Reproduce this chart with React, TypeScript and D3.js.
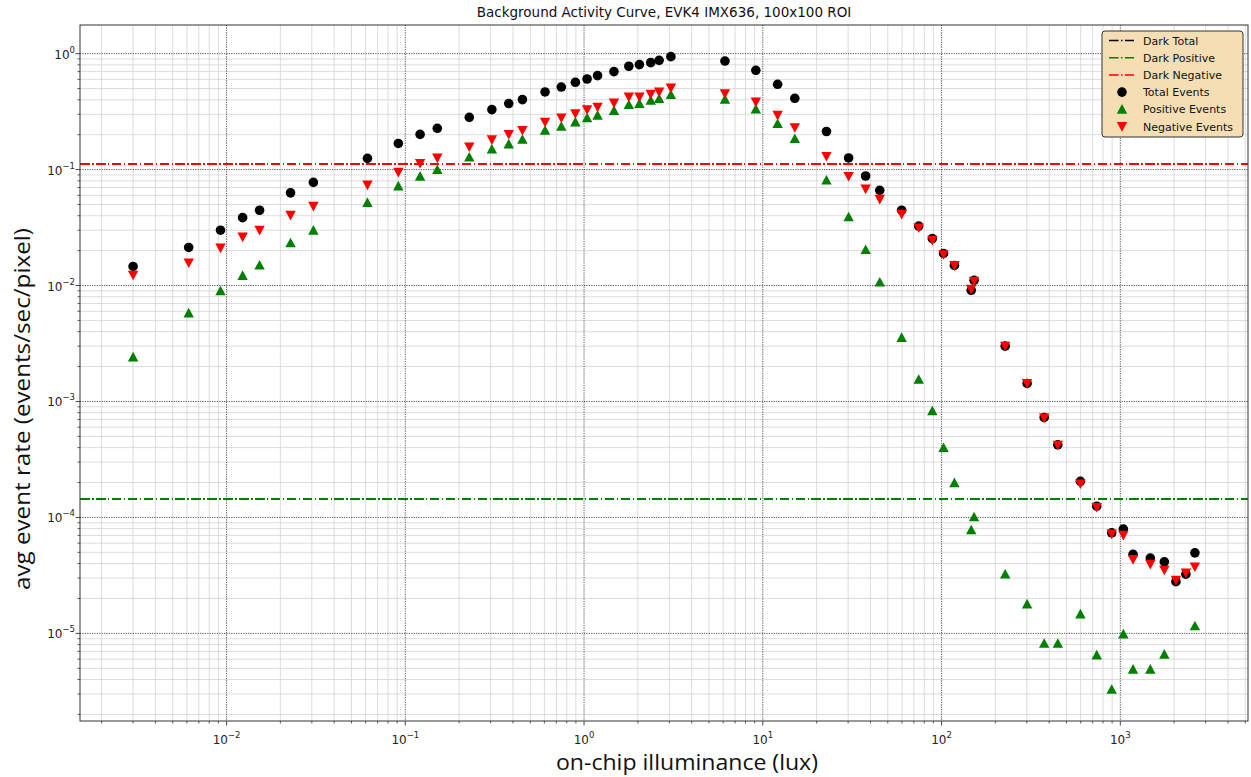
import React from "react";
import * as d3 from "d3";

// ---- data ----
const X_LUX = [
  0.003, 0.00614, 0.00925, 0.0123, 0.0153, 0.0228, 0.0306, 0.0614, 0.0914, 0.121,
  0.151, 0.228, 0.305, 0.379, 0.452, 0.605, 0.746, 0.894, 1.04, 1.19,
  1.47, 1.78, 2.04, 2.36, 2.63, 3.06, 6.14, 9.14, 12.1, 15.1,
  22.7, 30.2, 37.6, 45.1, 59.8, 74.5, 88.8, 102.6, 118, 146.5,
  152, 227, 301, 375, 447, 598, 738, 895, 1040, 1178,
  1472, 1763, 2047, 2327, 2614,
];
const TOTAL = [
  0.0146, 0.0213, 0.03, 0.0385, 0.0446, 0.063, 0.0775, 0.125, 0.168, 0.201,
  0.227, 0.282, 0.329, 0.371, 0.401, 0.467, 0.515, 0.566, 0.604, 0.646,
  0.7, 0.778, 0.804, 0.836, 0.875, 0.942, 0.863, 0.718, 0.544, 0.412,
  0.213, 0.126, 0.088, 0.0663, 0.0446, 0.0326, 0.0254, 0.0189, 0.0149, 0.0091,
  0.0111, 3.0e-3, 1.43e-3, 7.28e-4, 4.23e-4, 2.05e-4, 1.25e-4, 7.37e-5, 7.93e-5, 4.8e-5,
  4.46e-5, 4.14e-5, 2.79e-5, 3.24e-5, 4.95e-5,
];
const POSITIVE: (number | null)[] = [
  0.00242, 0.0058, 0.009, 0.0122, 0.015, 0.0233, 0.03, 0.052, 0.0722, 0.0875,
  0.1, 0.128, 0.15, 0.166, 0.182, 0.218, 0.236, 0.257, 0.279, 0.294,
  0.323, 0.363, 0.371, 0.396, 0.409, 0.443, 0.404, 0.333, 0.249, 0.185,
  0.081, 0.0391, 0.0204, 0.0107, 3.56e-3, 1.55e-3, 8.3e-4, 4.0e-4, 1.99e-4, 7.8e-5,
  1.01e-4, 3.24e-5, 1.79e-5, 8.2e-6, 8.2e-6, 1.47e-5, 6.5e-6, 3.29e-6, 9.87e-6, 4.9e-6,
  4.9e-6, 6.6e-6, null, null, 1.16e-5,
];
const NEGATIVE = [
  0.0123, 0.0157, 0.0211, 0.0262, 0.03, 0.0404, 0.0483, 0.0737, 0.0948, 0.113,
  0.126, 0.157, 0.181, 0.201, 0.218, 0.257, 0.279, 0.304, 0.329, 0.346,
  0.375, 0.423, 0.423, 0.446, 0.467, 0.505, 0.452, 0.383, 0.294, 0.23,
  0.13, 0.0875, 0.068, 0.0555, 0.0412, 0.0314, 0.0246, 0.0185, 0.0149, 0.0093,
  0.0109, 3.0e-3, 1.43e-3, 7.2e-4, 4.2e-4, 1.95e-4, 1.22e-4, 7.2e-5, 7.03e-5, 4.34e-5,
  3.95e-5, 3.51e-5, 2.88e-5, 3.33e-5, 3.75e-5,
];
// the dark-total line is hidden under the dark-negative line in the reference
const DARK_TOTAL = 0.1127;
const DARK_POSITIVE = 1.44e-4;
const DARK_NEGATIVE = 0.1127;

const TITLE = "Background Activity Curve, EVK4 IMX636, 100x100 ROI";
const X_LABEL = "on-chip illuminance (lux)";
const Y_LABEL = "avg event rate (events/sec/pixel)";
const LEGEND_LINES = [
  { label: "Dark Total", color: "#000000" },
  { label: "Dark Positive", color: "#008000" },
  { label: "Dark Negative", color: "#ff0000" },
];
const LEGEND_MARKERS = [
  { label: "Total Events", color: "#000000", shape: "circle" },
  { label: "Positive Events", color: "#008000", shape: "up" },
  { label: "Negative Events", color: "#ff0000", shape: "down" },
];

// ---- layout ----
const W = 1251;
const H = 777;
const L = 80;
const R = 1248;
const T = 25;
const B = 721;
const DASH = "9.6,2.4,1.5,2.4";

function logPad(vals: number[]) {
  const lo = Math.log10(d3.min(vals) as number);
  const hi = Math.log10(d3.max(vals) as number);
  const p = (hi - lo) * 0.05;
  return [Math.pow(10, lo - p), Math.pow(10, hi + p)];
}

const allY = [...TOTAL, ...NEGATIVE, ...(POSITIVE.filter((v) => v != null) as number[])];
const x = d3.scaleLog().domain(logPad(X_LUX)).range([L, R]);
const y = d3.scaleLog().domain(logPad(allY)).range([B, T]);

function ticks(scale: any) {
  const [a, b] = scale.domain();
  const majors: number[] = [];
  const minors: number[] = [];
  for (let k = Math.floor(Math.log10(a)); k <= Math.ceil(Math.log10(b)); k++) {
    const base = Math.pow(10, k);
    if (base >= a && base <= b) majors.push(k);
    for (let m = 2; m <= 9; m++) {
      const v = m * base;
      if (v >= a && v <= b) minors.push(v);
    }
  }
  return { majors, minors };
}

const xt = ticks(x);
const yt = ticks(y);

function sup(k: number) {
  return k < 0 ? "\u2212" + Math.abs(k) : String(k);
}

function tri(cx: number, cy: number, up: boolean, s = 5.2) {
  const h = s;
  if (up) return `M${cx},${cy - h}L${cx - s},${cy + h * 0.85}L${cx + s},${cy + h * 0.85}Z`;
  return `M${cx},${cy + h}L${cx - s},${cy - h * 0.85}L${cx + s},${cy - h * 0.85}Z`;
}

export default function App() {
  const font = "'DejaVu Sans', sans-serif";
  const narrow = "'Liberation Sans Narrow', 'Open Sans', sans-serif";
  const snap = (v: number) => Math.round(v);
  return (
    <svg
      width={W}
      height={H}
      style={{ position: "absolute", left: 0, top: 0, background: "#fff" }}
      fontFamily={font}
    >
      <rect x={0} y={0} width={W} height={H} fill="#fff" />
      {/* minor grid */}
      {xt.minors.map((v, i) => (
        <line key={"xm" + i} x1={x(v)} x2={x(v)} y1={T} y2={B} stroke="#d3d3d3" strokeWidth={0.8} />
      ))}
      {yt.minors.map((v, i) => (
        <line key={"ym" + i} x1={L} x2={R} y1={y(v)} y2={y(v)} stroke="#d3d3d3" strokeWidth={0.8} />
      ))}
      {/* major grid */}
      {xt.majors.map((k) => (
        <line key={"xM" + k} x1={x(Math.pow(10, k))} x2={x(Math.pow(10, k))} y1={T} y2={B} stroke="#444" strokeWidth={0.9} strokeDasharray="1.2,1.2" />
      ))}
      {yt.majors.map((k) => (
        <line key={"yM" + k} x1={L} x2={R} y1={y(Math.pow(10, k))} y2={y(Math.pow(10, k))} stroke="#444" strokeWidth={0.9} strokeDasharray="1.2,1.2" />
      ))}
      {/* dark levels */}
      <line x1={L} x2={R} y1={snap(y(DARK_TOTAL))} y2={snap(y(DARK_TOTAL))} stroke="#000" strokeWidth={2} strokeDasharray={DASH} shapeRendering="crispEdges" />
      <line x1={L} x2={R} y1={snap(y(DARK_POSITIVE))} y2={snap(y(DARK_POSITIVE))} stroke="#008000" strokeWidth={2} strokeDasharray={DASH} shapeRendering="crispEdges" />
      <line x1={L} x2={R} y1={snap(y(DARK_NEGATIVE))} y2={snap(y(DARK_NEGATIVE))} stroke="#ff0000" strokeWidth={2} strokeDasharray={DASH} shapeRendering="crispEdges" />
      {/* scatter */}
      {X_LUX.map((v, i) => (
        <circle key={"t" + i} cx={x(v)} cy={y(TOTAL[i])} r={4.8} fill="#000" />
      ))}
      {X_LUX.map((v, i) =>
        POSITIVE[i] == null ? null : (
          <path key={"p" + i} d={tri(x(v), y(POSITIVE[i] as number), true)} fill="#008000" />
        )
      )}
      {X_LUX.map((v, i) => (
        <path key={"n" + i} d={tri(x(v), y(NEGATIVE[i]), false)} fill="#ff0000" />
      ))}
      {/* frame */}
      <rect x={L} y={T} width={R - L} height={B - T} fill="none" stroke="#333" strokeWidth={1} />
      {/* x ticks */}
      {xt.minors.map((v, i) => (
        <line key={"xtm" + i} x1={x(v)} x2={x(v)} y1={B} y2={B + 2.5} stroke="#333" strokeWidth={0.8} />
      ))}
      {xt.majors.map((k) => (
        <g key={"xtl" + k}>
          <line x1={x(Math.pow(10, k))} x2={x(Math.pow(10, k))} y1={B} y2={B + 4.5} stroke="#333" strokeWidth={0.9} />
          <text x={x(Math.pow(10, k))} y={744} textAnchor="middle" fontSize={12} fill="#222">
            10<tspan dy={-6} fontSize={8.5}>{sup(k)}</tspan>
          </text>
        </g>
      ))}
      {/* y ticks */}
      {yt.minors.map((v, i) => (
        <line key={"ytm" + i} x1={L - 2.5} x2={L} y1={y(v)} y2={y(v)} stroke="#333" strokeWidth={0.8} />
      ))}
      {yt.majors.map((k) => (
        <g key={"ytl" + k}>
          <line x1={L - 4.5} x2={L} y1={y(Math.pow(10, k))} y2={y(Math.pow(10, k))} stroke="#333" strokeWidth={0.9} />
          <text x={75} y={y(Math.pow(10, k)) + 5} textAnchor="end" fontSize={12} fill="#222">
            10<tspan dy={-6} fontSize={8.5}>{sup(k)}</tspan>
          </text>
        </g>
      ))}
      {/* labels */}
      <text x={(L + R) / 2} y={17} textAnchor="middle" fontSize={13.5} fill="#111">{TITLE}</text>
      <text x={687} y={770} textAnchor="middle" fontSize={22} fill="#111" fontFamily={narrow} textLength={262} lengthAdjust="spacingAndGlyphs">
        {X_LABEL}
      </text>
      <text
        transform={`translate(30, 409) rotate(-90)`}
        textAnchor="middle"
        fontSize={22}
        fill="#111"
        fontFamily={narrow}
        textLength={362}
        lengthAdjust="spacingAndGlyphs"
      >
        {Y_LABEL}
      </text>
      {/* legend */}
      <g>
        <rect x={1102} y={31} width={141} height={106} rx={3} fill="#f5deb3" stroke="#333" strokeWidth={1} />
        {LEGEND_LINES.map((e, i) => {
          const cy = 40.5 + i * 17.2;
          return (
            <g key={"ll" + i}>
              <line x1={1109} x2={1134} y1={cy} y2={cy} stroke={e.color} strokeWidth={1.5} strokeDasharray={DASH} />
              <text x={1143} y={cy + 4} fontSize={11} fill="#111">{e.label}</text>
            </g>
          );
        })}
        {LEGEND_MARKERS.map((e, i) => {
          const cy = 40.5 + (i + 3) * 17.2;
          return (
            <g key={"lm" + i}>
              {e.shape === "circle" ? (
                <circle cx={1122} cy={cy} r={4.8} fill={e.color} />
              ) : (
                <path d={tri(1122, cy, e.shape === "up")} fill={e.color} />
              )}
              <text x={1143} y={cy + 4} fontSize={11} fill="#111">{e.label}</text>
            </g>
          );
        })}
      </g>
    </svg>
  );
}
